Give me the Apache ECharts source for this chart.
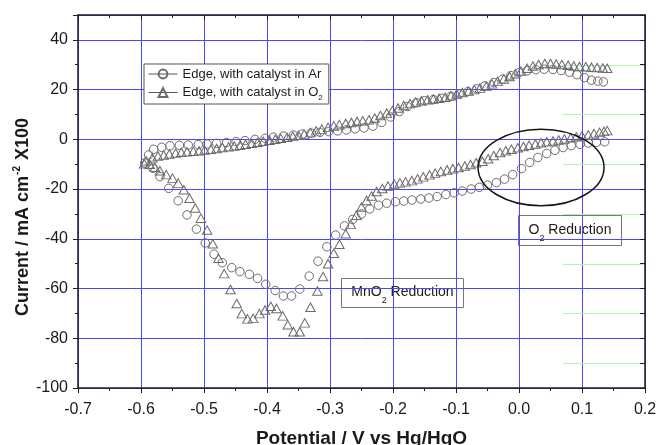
<!DOCTYPE html>
<html><head><meta charset="utf-8">
<script src="https://cdn.jsdelivr.net/npm/echarts@6/dist/echarts.min.js"></script>
<style>html,body{margin:0;padding:0;background:#fff}#c{width:656px;height:445px}</style>
</head><body><div id="c"></div>
<script>
// ---- tick labels ----
const xTickLabels = ['-0.7','-0.6','-0.5','-0.4','-0.3','-0.2','-0.1','0.0','0.1','0.2'];
const yTickLabels = ['-100','-80','-60','-40','-20','0','20','40'];

// ---- Edge, with catalyst in Ar (circles): [potential V, current] ----
const arCathodic = [
 [0.136,-1.0],[0.123,-1.2],[0.110,-1.5],[0.097,-2.0],[0.083,-2.5],[0.070,-3.3],[0.057,-4.4],
 [0.044,-5.7],[0.030,-7.3],[0.017,-9.3],[0.004,-11.8],[-0.010,-14.2],[-0.023,-16.0],[-0.036,-17.4],
 [-0.050,-18.4],[-0.063,-19.3],[-0.076,-20.0],[-0.090,-20.8],[-0.103,-21.5],[-0.116,-22.2],
 [-0.130,-23.0],[-0.143,-23.6],[-0.156,-24.0],[-0.170,-24.4],[-0.183,-24.8],[-0.196,-25.1],
 [-0.210,-25.7],[-0.223,-26.5],[-0.237,-28.0],[-0.250,-30.0],[-0.264,-32.2],[-0.277,-34.8],
 [-0.291,-38.5],[-0.305,-43.2],[-0.319,-49.0],[-0.333,-55.0],[-0.348,-60.2],[-0.361,-63.0],
 [-0.374,-63.0],[-0.387,-60.8],[-0.402,-58.3],[-0.415,-55.9],[-0.428,-54.3],[-0.443,-53.2],
 [-0.456,-51.6],[-0.471,-49.6],[-0.484,-46.2],[-0.498,-41.7],[-0.512,-36.1],[-0.527,-30.4],
 [-0.541,-24.7],[-0.556,-19.7],[-0.570,-15.0],[-0.581,-11.6],[-0.594,-9.5]
];
const arAnodic = [
 [-0.588,-6.3],[-0.580,-4.0],[-0.567,-3.2],[-0.554,-2.6],[-0.539,-2.4],[-0.525,-2.3],[-0.509,-2.1],
 [-0.495,-1.9],[-0.480,-1.6],[-0.464,-1.3],[-0.449,-0.9],[-0.435,-0.5],[-0.419,0.0],[-0.403,0.4],
 [-0.390,0.9],[-0.374,1.3],[-0.358,1.7],[-0.344,2.1],[-0.330,2.5],[-0.316,2.8],[-0.302,3.1],
 [-0.288,3.4],[-0.274,3.8],[-0.260,4.2],[-0.246,4.6],[-0.232,5.3],[-0.218,6.8],[-0.204,9.0],
 [-0.190,11.2],[-0.177,13.2],[-0.163,14.7],[-0.150,15.5],[-0.136,16.0],[-0.122,16.5],[-0.108,17.3],
 [-0.095,18.2],[-0.081,19.2],[-0.067,20.3],[-0.054,21.5],[-0.040,22.8],[-0.026,24.2],[-0.013,25.6],
 [0.000,26.8],[0.013,27.6],[0.027,28.0],[0.040,28.2],[0.054,28.1],[0.067,27.7],[0.080,27.0],
 [0.092,26.0],[0.104,24.8],[0.115,23.8],[0.125,23.4],[0.134,23.1]
];

// ---- Edge, with catalyst in O2 (triangles): [potential V, current] ----
const o2Cathodic = [
 [0.140,3.5],[0.135,3.2],[0.128,2.8],[0.119,2.3],[0.110,1.8],[0.100,1.4],[0.091,1.0],[0.082,0.6],
 [0.072,0.1],[0.063,-0.3],[0.054,-0.7],[0.044,-1.0],[0.035,-1.4],[0.026,-1.9],[0.016,-2.4],
 [0.007,-2.9],[-0.002,-3.4],[-0.012,-4.0],[-0.021,-4.6],[-0.030,-5.3],[-0.040,-6.5],[-0.049,-7.8],
 [-0.058,-8.8],[-0.068,-9.4],[-0.077,-10.1],[-0.086,-10.7],[-0.096,-11.3],[-0.105,-11.8],
 [-0.114,-12.3],[-0.124,-12.9],[-0.133,-13.6],[-0.142,-14.3],[-0.152,-15.1],[-0.161,-15.9],
 [-0.170,-16.6],[-0.180,-17.1],[-0.189,-17.5],[-0.198,-18.0],[-0.208,-18.8],[-0.217,-19.8],
 [-0.226,-21.0],[-0.234,-22.8],[-0.242,-24.6],[-0.250,-27.2],[-0.258,-30.5],[-0.267,-34.2],
 [-0.275,-38.0],[-0.285,-42.2],[-0.294,-45.8],[-0.303,-50.0],[-0.311,-55.2],[-0.320,-61.0],
 [-0.331,-67.5],[-0.340,-73.8],[-0.348,-77.4],[-0.358,-77.4],[-0.367,-74.6],[-0.375,-71.0],
 [-0.385,-68.0],[-0.394,-67.1],[-0.403,-68.6],[-0.412,-70.1],[-0.422,-72.0],[-0.431,-72.2],
 [-0.440,-70.1],[-0.448,-66.0],[-0.458,-60.4],[-0.468,-54.0],[-0.477,-47.8],[-0.486,-42.0],
 [-0.495,-36.5],[-0.505,-31.7],[-0.514,-27.6],[-0.523,-23.7],[-0.532,-20.3],[-0.541,-17.6],
 [-0.550,-15.6],[-0.560,-14.2],[-0.570,-12.6],[-0.578,-11.2],[-0.586,-10.0],[-0.595,-9.8]
];
const o2Anodic = [
 [-0.592,-8.6],[-0.582,-7.4],[-0.573,-6.7],[-0.564,-6.3],[-0.555,-5.9],[-0.545,-5.5],[-0.536,-5.2],
 [-0.527,-5.0],[-0.517,-4.8],[-0.508,-4.6],[-0.499,-4.3],[-0.489,-4.0],[-0.480,-3.7],[-0.471,-3.3],
 [-0.461,-3.0],[-0.452,-2.7],[-0.443,-2.4],[-0.434,-2.0],[-0.424,-1.6],[-0.415,-1.2],[-0.406,-0.8],
 [-0.396,-0.4],[-0.387,0.0],[-0.378,0.4],[-0.368,0.8],[-0.359,1.2],[-0.350,1.6],[-0.341,2.1],
 [-0.331,2.7],[-0.322,3.4],[-0.313,4.1],[-0.303,4.8],[-0.294,5.4],[-0.285,5.9],[-0.275,6.4],
 [-0.266,6.8],[-0.257,7.2],[-0.248,7.5],[-0.238,7.9],[-0.229,8.6],[-0.220,9.6],[-0.210,10.6],
 [-0.201,11.6],[-0.192,12.6],[-0.183,13.6],[-0.173,14.4],[-0.164,15.0],[-0.155,15.5],[-0.145,15.9],
 [-0.136,16.2],[-0.127,16.5],[-0.117,16.9],[-0.108,17.5],[-0.099,18.2],[-0.090,18.8],[-0.080,19.4],
 [-0.071,20.0],[-0.062,20.6],[-0.052,21.3],[-0.043,22.3],[-0.034,23.3],[-0.024,24.3],[-0.015,25.3],
 [-0.006,26.4],[0.003,27.5],[0.013,28.6],[0.022,29.5],[0.031,30.1],[0.041,30.5],[0.050,30.5],
 [0.059,30.3],[0.068,30.1],[0.078,29.8],[0.087,29.5],[0.096,29.3],[0.106,29.2],[0.115,29.0],
 [0.124,28.9],[0.133,28.7],[0.140,28.6]
];

// ---- annotations ----
const ellipseSpec = [0.035, -11.3, 0.100, 15.4]; // centre V, centre current, half-width V, half-height current
const greenLevels = [30, 10, -10, -30, -50, -70, -90];
const greenFrom = 0.07, greenTo = 0.2;

const AR = 'Edge, with catalyst in Ar';
const O2 = 'Edge, with catalyst in O2';
const FONT = 'Liberation Sans, Arial, sans-serif';
const XMIN=-0.7, XMAX=0.2, YMIN=-100, YMAX=50;

function labelFor(list, v){ const s = list.find(t => Math.abs(parseFloat(t) - v) < 1e-6); return s === undefined ? '' : s; }

const borderLine = {show:true, onZero:false, lineStyle:{color:'#1e1e1e', width:1.5}};
const tickStyle = {color:'#1e1e1e', width:1};

const chart = echarts.init(document.getElementById('c'), null, {renderer:'canvas'});
chart.setOption({
  animation:false,
  backgroundColor:'#fff',
  textStyle:{fontFamily:FONT},
  grid:{left:78, right:11, top:15, bottom:57, outerBoundsMode:'none', containLabel:false},
  legend:{
    orient:'vertical', left:144, top:64,
    data:[AR, O2],
    itemWidth:29, itemHeight:11, itemGap:1,
    padding:[2,6,2,4],
    borderColor:'#555', borderWidth:1, backgroundColor:'#fff',
    selectedMode:false,
    lineStyle:{color:'#555', width:1, opacity:1},
    formatter: n => n === O2 ? 'Edge, with catalyst in O{sub|2}' : n,
    textStyle:{fontSize:13, color:'#1a1a1a', fontFamily:FONT, lineHeight:16,
      rich:{sub:{fontSize:8, color:'#1a1a1a', fontFamily:FONT, lineHeight:8, padding:[11,0,0,0]}}}
  },
  xAxis:[
    {type:'value', position:'bottom', min:XMIN, max:XMAX, interval:0.1, z:6,
     axisLine:borderLine,
     axisTick:{show:true, inside:false, length:5, lineStyle:tickStyle},
     minorTick:{show:true, splitNumber:2, length:3, lineStyle:tickStyle},
     axisLabel:{margin:14, fontSize:16, color:'#1a1a1a', fontFamily:FONT, formatter:v => labelFor(xTickLabels, v)},
     splitLine:{show:false},
     name:'Potential / V vs Hg/HgO', nameLocation:'middle', nameGap:41,
     nameTextStyle:{fontSize:19, fontWeight:'bold', color:'#1a1a1a', fontFamily:FONT}},
    {type:'value', position:'top', min:XMIN, max:XMAX, interval:0.1, z:6,
     axisLine:borderLine,
     axisTick:{show:true, inside:true, length:5, lineStyle:tickStyle},
     minorTick:{show:true, splitNumber:2, length:3, lineStyle:tickStyle},
     axisLabel:{show:false}, splitLine:{show:false}},
    {type:'value', position:'bottom', min:XMIN, max:XMAX, interval:0.1, z:0,
     axisLine:{show:false, onZero:false}, axisTick:{show:false}, axisLabel:{show:false},
     splitLine:{show:true, lineStyle:{color:'#4848ff', width:1}}}
  ],
  yAxis:[
    {type:'value', position:'left', min:YMIN, max:YMAX, interval:20, z:6,
     axisLine:borderLine,
     axisTick:{show:true, inside:false, length:5, lineStyle:tickStyle},
     minorTick:{show:true, splitNumber:2, length:3, lineStyle:tickStyle},
     axisLabel:{margin:10, fontSize:16, color:'#1a1a1a', fontFamily:FONT, showMaxLabel:false, formatter:v => labelFor(yTickLabels, v)},
     splitLine:{show:false}},
    {type:'value', position:'right', min:YMIN, max:YMAX, interval:20, z:6,
     axisLine:borderLine,
     axisTick:{show:true, inside:true, length:5, lineStyle:tickStyle},
     minorTick:{show:true, splitNumber:2, length:5, lineStyle:tickStyle},
     axisLabel:{show:false}, splitLine:{show:false}},
    {type:'value', position:'left', min:YMIN, max:YMAX, interval:20, z:0,
     axisLine:{show:false, onZero:false}, axisTick:{show:false}, axisLabel:{show:false},
     splitLine:{show:true, lineStyle:{color:'#4848ff', width:1}}}
  ],
  series:[
    {type:'custom', name:'green', xAxisIndex:0, yAxisIndex:0, silent:true, z:1,
     data: greenLevels.map(v => [greenFrom, v, greenTo]),
     renderItem:(params, api) => {
       const a = api.coord([api.value(0), api.value(1)]);
       const b = api.coord([api.value(2), api.value(1)]);
       return {type:'line', shape:{x1:a[0], y1:Math.round(a[1])+0.5, x2:b[0], y2:Math.round(b[1])+0.5},
               style:{stroke:'#b4f0b4', lineWidth:1}};
     }},
    {name:AR, type:'line', xAxisIndex:0, yAxisIndex:0, z:3,
     data: arCathodic.concat(arAnodic),
     symbol:'circle', symbolSize:8.5, showSymbol:true, showAllSymbol:true,
     lineStyle:{width:0, opacity:0},
     itemStyle:{color:'rgba(255,255,255,0)', borderColor:'#6b6b6b', borderWidth:1},
     emphasis:{disabled:true}},
    {name:O2, type:'line', xAxisIndex:0, yAxisIndex:0, z:3,
     data: o2Cathodic.concat(o2Anodic),
     symbol:'triangle', symbolSize:[9.5,8.5], showSymbol:true, showAllSymbol:true,
     lineStyle:{width:0, opacity:0},
     itemStyle:{color:'rgba(255,255,255,0)', borderColor:'#6b6b6b', borderWidth:1},
     emphasis:{disabled:true}},
    {type:'custom', name:'ellipse', xAxisIndex:0, yAxisIndex:0, silent:true, z:4,
     data:[ellipseSpec],
     renderItem:(params, api) => {
       const c = api.coord([api.value(0), api.value(1)]);
       const rx = api.size([api.value(2), 0])[0];
       const ry = api.size([0, api.value(3)])[1];
       return {type:'ellipse', shape:{cx:c[0], cy:c[1], rx:rx, ry:ry},
               style:{fill:null, stroke:'#151515', lineWidth:1.5}};
     }}
  ],
  graphic:[
    {type:'text', x:23, y:217, rotation:Math.PI/2, z:10,
     style:{text:'Current / mA cm{sup|-2} X100', fontSize:18, fontWeight:'bold', fontFamily:FONT, fill:'#1a1a1a',
            align:'center', verticalAlign:'middle',
            rich:{sup:{fontSize:10, fontWeight:'bold', fontFamily:FONT, fill:'#1a1a1a', padding:[0,1,12,1]}}}},
    {type:'group', left:341, top:278, z:10, children:[
      {type:'rect', shape:{x:0, y:0, width:122, height:29}, style:{fill:'#fff', stroke:'#777', lineWidth:1}},
      {type:'text', x:61, y:14, style:{text:'MnO{sub|2} Reduction', fontSize:14, fontFamily:FONT, fill:'#1a1a1a',
        align:'center', verticalAlign:'middle',
        rich:{sub:{fontSize:9, fontFamily:FONT, fill:'#1a1a1a', padding:[16,0,0,0]}}}}
    ]},
    {type:'group', left:518, top:215, z:10, children:[
      {type:'rect', shape:{x:0, y:0, width:103, height:30}, style:{fill:'#fff', stroke:'#777', lineWidth:1}},
      {type:'text', x:51.5, y:15, style:{text:'O{sub|2} Reduction', fontSize:14, fontFamily:FONT, fill:'#1a1a1a',
        align:'center', verticalAlign:'middle',
        rich:{sub:{fontSize:9, fontFamily:FONT, fill:'#1a1a1a', padding:[16,0,0,0]}}}}
    ]}
  ]
});
</script>
</body></html>
